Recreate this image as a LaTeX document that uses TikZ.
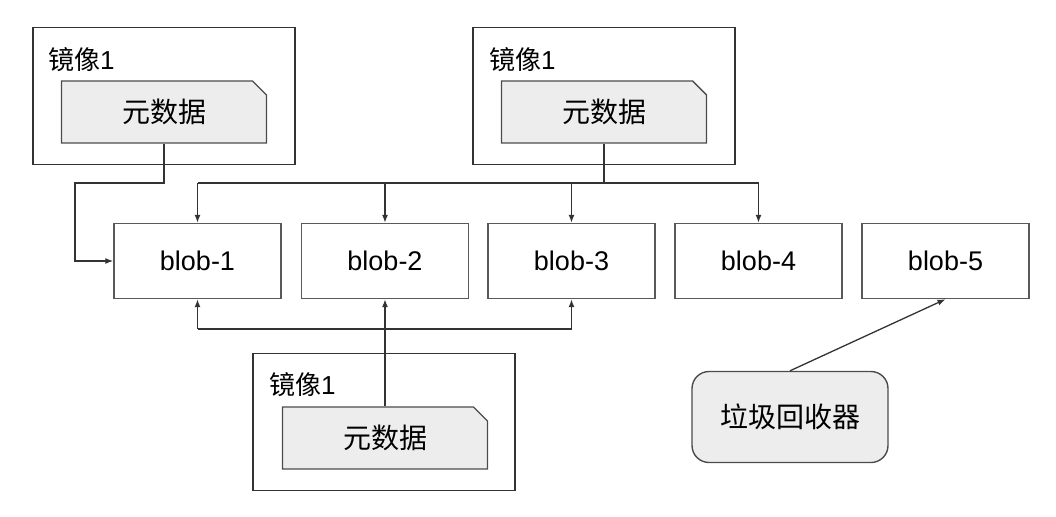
\documentclass[tikz,border=0pt]{standalone}
\usepackage{fontspec}
\setmainfont{Liberation Sans}
\newfontfamily\cjk{Noto Sans CJK SC}
\usetikzlibrary{shapes.misc,arrows.meta}
\tikzset{
  imgbox/.style={draw=black!80,line width=1.6pt,minimum width=262pt,minimum height=137pt,inner sep=0pt},
  imglabel/.style={anchor=west,inner sep=0pt,font=\fontsize{26}{30}\selectfont},
  metabox/.style={chamfered rectangle,chamfered rectangle corners=north east,chamfered rectangle sep=7pt,
    draw=black!70,line width=1.4pt,fill=black!7,minimum width=205pt,minimum height=62pt,inner sep=0pt,
    font=\cjk\fontsize{28}{32}\selectfont},
  blobbox/.style={draw=black!65,line width=1.4pt,minimum width=167pt,minimum height=75pt,
    font=\fontsize{27}{32}\selectfont},
  gcbox/.style={draw=black!70,line width=1.4pt,rounded corners=17pt,fill=black!7,minimum width=196pt,
    minimum height=91pt,font=\cjk\fontsize{28}{32}\selectfont},
  link/.style={draw=black!80,line width=1.3pt},
  linkarr/.style={link,-{Latex[length=8pt,width=6pt]}}
}
\begin{document}
\begin{tikzpicture}[x=1pt,y=-1pt]
  \useasboundingbox (0,0) rectangle (1056,516);
  \node[imgbox] (img1) at (164,96) {};
  \node[imgbox] (img2) at (604,96) {};
  \node[imgbox] (img3) at (384,422) {};
  \node[imglabel] (lab1) at (48,60) {{\cjk 镜像}1};
  \node[imglabel] (lab2) at (489,60) {{\cjk 镜像}1};
  \node[imglabel] (lab3) at (269,385) {{\cjk 镜像}1};
  \node[metabox] (meta1) at (164,112) {元数据};
  \node[metabox] (meta2) at (604,112) {元数据};
  \node[metabox] (meta3) at (385,438) {元数据};
  \foreach \i/\x in {1/197.5,2/385,3/571.5,4/758.5,5/945.5}
    \node[blobbox] (blob\i) at (\x,261) {blob-\i};
  \node[gcbox] (gc) at (790,417) {垃圾回收器};
  \coordinate (busT) at (0,183);
  \coordinate (busB) at (0,329);
  \coordinate (bend1) at (75,183);
  \begin{scope}[link]
    \draw[linkarr] (meta1.south) |- (bend1) |- (blob1.west);
    \draw (meta2.south) -- (meta2.south |- busT);
    \draw (blob1.north |- busT) -- (blob4.north |- busT);
    \foreach \i in {1,...,4}
      \draw[linkarr] (blob\i.north |- busT) -- (blob\i.north);
    \draw[linkarr] (meta3.north) -- (blob2.south);
    \draw (blob1.south |- busB) -- (blob3.south |- busB);
    \foreach \i in {1,3}
      \draw[linkarr] (blob\i.south |- busB) -- (blob\i.south);
    \draw[linkarr] (gc.north) -- (blob5.south);
  \end{scope}
\end{tikzpicture}
\end{document}
